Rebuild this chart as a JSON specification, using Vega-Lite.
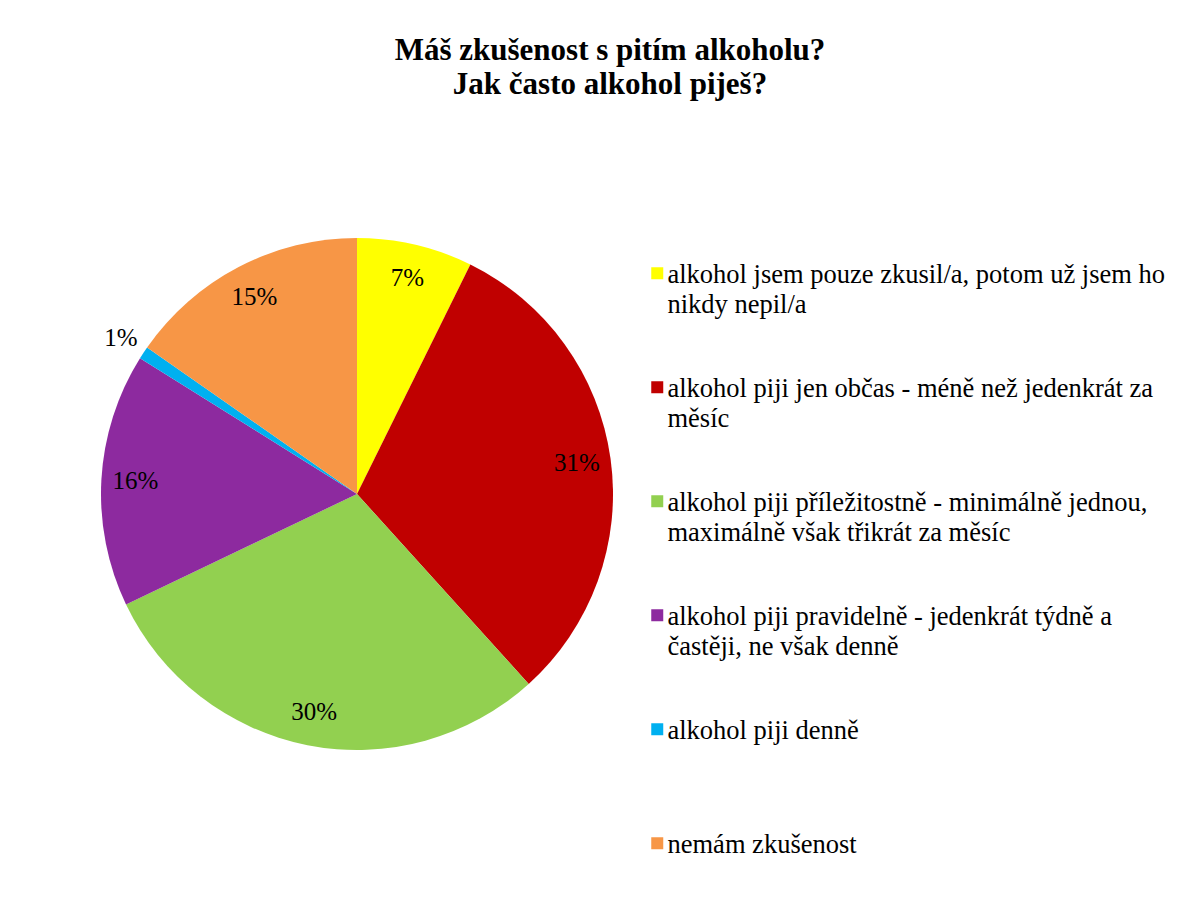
{
  "$schema": "https://vega.github.io/schema/vega-lite/v6.json",
  "width": 512,
  "height": 512,
  "autosize": {"type": "none"},
  "padding": {"top": 238, "left": 101, "right": 590, "bottom": 155},
  "background": "white",
  "title": {
    "text": ["Máš zkušenost s pitím alkoholu?", "Jak často alkohol piješ?"],
    "font": "Liberation Serif",
    "fontSize": 31,
    "fontWeight": "bold",
    "lineHeight": 34,
    "color": "black",
    "anchor": "middle",
    "frame": "group",
    "dx": 253,
    "offset": 105
  },
  "data": {
    "values": [
      {"kategorie": "alkohol jsem pouze zkusil/a, potom už jsem ho nikdy nepil/a", "podil": 0.073, "poradi": 1},
      {"kategorie": "alkohol piji jen občas - méně než jedenkrát za měsíc", "podil": 0.31, "poradi": 2},
      {"kategorie": "alkohol piji příležitostně - minimálně jednou, maximálně však třikrát za měsíc", "podil": 0.296, "poradi": 3},
      {"kategorie": "alkohol piji pravidelně - jedenkrát týdně a častěji, ne však denně", "podil": 0.16, "poradi": 4},
      {"kategorie": "alkohol piji denně", "podil": 0.008, "poradi": 5},
      {"kategorie": "nemám zkušenost", "podil": 0.153, "poradi": 6}
    ]
  },
  "encoding": {
    "theta": {"field": "podil", "type": "quantitative", "stack": true},
    "order": {"field": "poradi", "type": "quantitative"},
    "detail": {"field": "kategorie", "type": "nominal"}
  },
  "layer": [
    {
      "mark": {"type": "arc"},
      "encoding": {
        "color": {
          "field": "kategorie",
          "type": "nominal",
          "scale": {
            "domain": [
              "alkohol jsem pouze zkusil/a, potom už jsem ho nikdy nepil/a",
              "alkohol piji jen občas - méně než jedenkrát za měsíc",
              "alkohol piji příležitostně - minimálně jednou, maximálně však třikrát za měsíc",
              "alkohol piji pravidelně - jedenkrát týdně a častěji, ne však denně",
              "alkohol piji denně",
              "nemám zkušenost"
            ],
            "range": ["#FFFF00", "#C00000", "#92D050", "#8D2A9F", "#00B0F0", "#F79646"]
          },
          "legend": {
            "title": null,
            "orient": "none",
            "legendX": 543,
            "legendY": 22,
            "padding": 0,
            "symbolType": "square",
            "symbolSize": 144,
            "symbolStrokeWidth": 0,
            "labelFont": "Liberation Serif",
            "labelFontSize": 26.5,
            "labelColor": "black",
            "labelLimit": 0,
            "labelOffset": -3,
            "labelBaseline": "top",
            "rowPadding": 55,
            "encode": {"labels": {"update": {"dy": {"value": -11}, "lineHeight": {"value": 30}}}},
            "labelExpr": "datum.label == 'alkohol jsem pouze zkusil/a, potom už jsem ho nikdy nepil/a' ? ['alkohol jsem pouze zkusil/a, potom už jsem ho', 'nikdy nepil/a'] : datum.label == 'alkohol piji jen občas - méně než jedenkrát za měsíc' ? ['alkohol piji jen občas - méně než jedenkrát za', 'měsíc'] : datum.label == 'alkohol piji příležitostně - minimálně jednou, maximálně však třikrát za měsíc' ? ['alkohol piji příležitostně - minimálně jednou,', 'maximálně však třikrát za měsíc'] : datum.label == 'alkohol piji pravidelně - jedenkrát týdně a častěji, ne však denně' ? ['alkohol piji pravidelně - jedenkrát týdně a', 'častěji, ne však denně'] : [datum.label, '']"
          }
        }
      }
    },
    {
      "mark": {"type": "text", "radius": 222, "font": "Liberation Serif", "fontSize": 25, "fill": "black"},
      "encoding": {
        "text": {"condition": {"test": "datum.podil < 0.02", "value": ""}, "field": "podil", "type": "quantitative", "format": ".0%"}
      }
    },
    {
      "mark": {"type": "text", "radius": 283, "font": "Liberation Serif", "fontSize": 25, "fill": "black"},
      "encoding": {
        "text": {"condition": {"test": "datum.podil >= 0.02", "value": ""}, "field": "podil", "type": "quantitative", "format": ".0%"}
      }
    }
  ]
}
